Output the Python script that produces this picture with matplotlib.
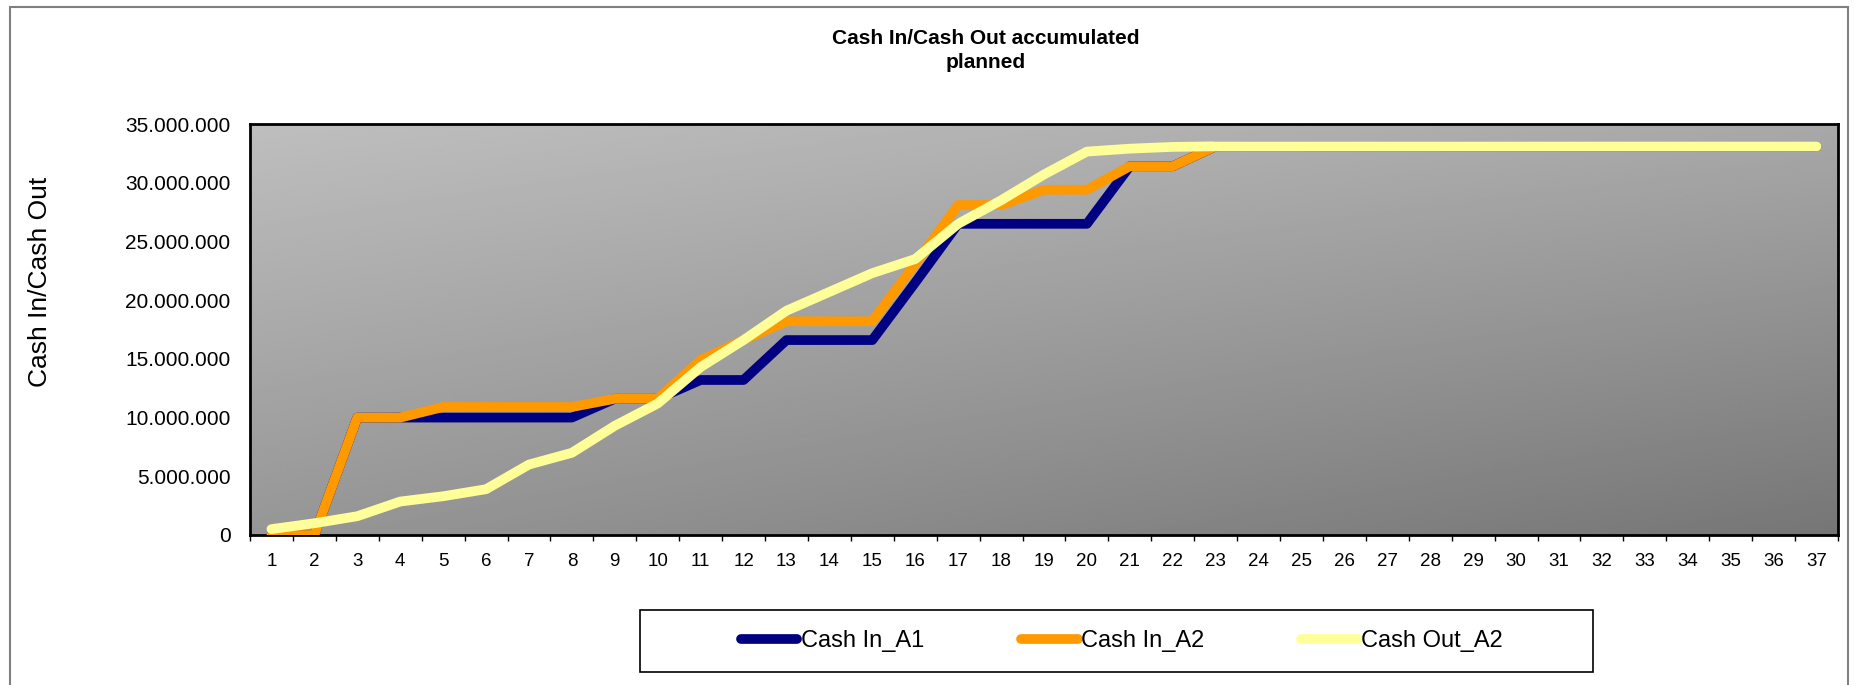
import numpy as np
import matplotlib
matplotlib.use("Agg")
import matplotlib.pyplot as plt
from matplotlib.patches import Rectangle
from matplotlib.ticker import FuncFormatter, MultipleLocator

plt.rcParams['font.family'] = ['Liberation Sans', 'DejaVu Sans']

# 数据（单位：百万）
periods = list(range(1, 38))
cash_in_a1 = [0.0, 0.0, 10.0, 10.0, 10.0, 10.0, 10.0, 10.0, 11.6, 11.6,
              13.2, 13.2, 16.6, 16.6, 16.6, 21.5, 26.5, 26.5, 26.5, 26.5,
              31.4, 31.4, 33.1, 33.1, 33.1, 33.1, 33.1, 33.1, 33.1, 33.1,
              33.1, 33.1, 33.1, 33.1, 33.1, 33.1, 33.1]
cash_in_a2 = [0.0, 0.0, 10.0, 10.0, 10.9, 10.9, 10.9, 10.9, 11.6, 11.6,
              14.9, 16.6, 18.2, 18.2, 18.2, 23.1, 28.1, 28.1, 29.4, 29.4,
              31.4, 31.4, 33.1, 33.1, 33.1, 33.1, 33.1, 33.1, 33.1, 33.1,
              33.1, 33.1, 33.1, 33.1, 33.1, 33.1, 33.1]
cash_out_a2 = [0.5, 1.0, 1.6, 2.85, 3.3, 3.9, 6.0, 7.0, 9.3, 11.2,
               14.3, 16.6, 19.1, 20.7, 22.3, 23.5, 26.5, 28.5, 30.7, 32.65,
               32.9, 33.05, 33.1, 33.1, 33.1, 33.1, 33.1, 33.1, 33.1, 33.1,
               33.1, 33.1, 33.1, 33.1, 33.1, 33.1, 33.1]
series_names = ['Cash In_A1', 'Cash In_A2', 'Cash Out_A2']
series_colors = ['#000080', '#FF9900', '#FFFF99']

W, H = 1854, 685
fig = plt.figure(figsize=(W / 100, H / 100), dpi=100)
fig.patch.set_facecolor('white')

# 图表外框
fig.patches.append(Rectangle((10 / W, -0.02), (1848 - 10) / W, 1 - 7 / H + 0.02,
                             transform=fig.transFigure, fill=False,
                             edgecolor='#808080', linewidth=1.5))

ax = fig.add_axes([250 / W, 1 - 535 / H, (1838 - 250) / W, (535 - 124) / H])

# 绘图区渐变背景
gx, gy = np.meshgrid(np.linspace(0, 1, 200), np.linspace(1, 0, 200))
grad = 190 - 22 * gx - 40 * (1 - gy) - 10 * gx * (1 - gy)
ax.imshow(grad, extent=[0, 1, 0, 1], transform=ax.transAxes, aspect='auto',
          cmap='gray', vmin=0, vmax=255, interpolation='bilinear', zorder=0)

x = np.array(periods)
lines = []
for vals, name, col in zip([cash_in_a1, cash_in_a2, cash_out_a2], series_names, series_colors):
    ln, = ax.plot(x, np.array(vals) * 1e6, color=col, lw=7, label=name,
                  solid_capstyle='round', solid_joinstyle='round', zorder=3)
    lines.append(ln)

ax.set_xlim(0.5, 37.5)
ax.set_ylim(0, 35e6)
ax.yaxis.set_major_locator(MultipleLocator(5e6))
ax.yaxis.set_major_formatter(FuncFormatter(lambda v, p: '{:,.0f}'.format(v).replace(',', '.')))
ax.tick_params(axis='y', length=0, pad=14, labelsize=15, colors='black')
ax.set_xticks(periods)
ax.set_xticklabels([str(p) for p in periods])
ax.set_xticks(np.arange(0.5, 38, 1), minor=True)
ax.tick_params(axis='x', which='major', length=0, pad=13, labelsize=13.5)
ax.tick_params(axis='x', which='minor', length=4, width=1, direction='out', color='black')
ax.tick_params(axis='y', which='minor', length=0)
for s in ax.spines.values():
    s.set_linewidth(2)
    s.set_color('black')

fig.text(986 / W, 1 - 50.5 / H, 'Cash In/Cash Out accumulated\nplanned',
         ha='center', va='center', fontsize=15, fontweight='bold', linespacing=1.35)
fig.text(40 / W, 1 - 282 / H, 'Cash In/Cash Out', rotation=90,
         ha='center', va='center', fontsize=19)

# 图例
fig.patches.append(Rectangle((640 / W, 1 - 672 / H), (1593 - 640) / W, 62 / H,
                             transform=fig.transFigure, fill=True, facecolor='white',
                             edgecolor='black', linewidth=1.2))
fig.legend(handles=lines, loc='center', bbox_to_anchor=(1122 / W, 1 - 641 / H),
           ncol=3, frameon=False, fontsize=17, handlelength=2.4,
           handletextpad=0.15, columnspacing=4.1)

fig.savefig('out.png', dpi=100)
